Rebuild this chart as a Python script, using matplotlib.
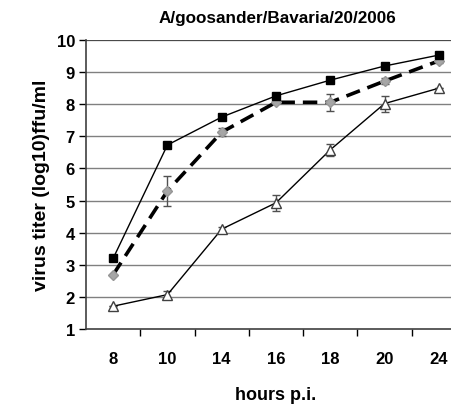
import matplotlib
matplotlib.use("Agg")
from matplotlib import pyplot as plt

plt.rcParams['font.family'] = ['Liberation Sans', 'DejaVu Sans']
plt.rcParams['font.weight'] = 'bold'

# Data
HOURS = ["8", "10", "14", "16", "18", "20", "24"]
SQUARE_VALUES = [3.2, 6.73, 7.6, 8.26, 8.75, 9.19, 9.53]
DIAMOND_VALUES = [2.69, 5.3, 7.13, 8.06, 8.06, 8.72, 9.35]
DIAMOND_ERR = [0.0, 0.48, 0.12, 0.0, 0.26, 0.1, 0.08]
TRIANGLE_VALUES = [1.71, 2.07, 4.11, 4.93, 6.58, 8.02, 8.5]
TRIANGLE_ERR = [0.0, 0.1, 0.08, 0.25, 0.18, 0.25, 0.0]

TITLE = "A/goosander/Bavaria/20/2006"
X_LABEL = "hours p.i."
Y_LABEL = "virus titer (log10)ffu/ml"

fig = plt.figure(figsize=(4.51, 4.06), dpi=100)
ax = fig.add_axes([86 / 451, 1 - 330 / 406, 380 / 451, 289 / 406])

x = list(range(len(HOURS)))

# Grid lines at every integer
for yv in range(2, 11):
    ax.axhline(yv, color="#808080", linewidth=1.0, zorder=0)
ax.axhline(10, color="#404040", linewidth=1.2, zorder=0)

ax.errorbar(x, TRIANGLE_VALUES, yerr=TRIANGLE_ERR, color="black", linewidth=1.0,
            marker="^", markersize=7, markerfacecolor="white", markeredgecolor="#404040",
            ecolor="#505050", elinewidth=1.0, capsize=3, zorder=3)
ax.errorbar(x, DIAMOND_VALUES, yerr=DIAMOND_ERR, color="black", linewidth=2.6,
            linestyle=(0, (4, 2.2)), marker="D", markersize=5.5,
            markerfacecolor="#a6a6a6", markeredgecolor="#969696",
            ecolor="#505050", elinewidth=1.0, capsize=3, zorder=4)
ax.plot(x, SQUARE_VALUES, color="black", linewidth=1.0, marker="s", markersize=6,
        markerfacecolor="black", markeredgecolor="black", zorder=5)

ax.set_xlim(-0.5, len(HOURS) - 0.5)
ax.set_ylim(1, 10)
ax.set_yticks(range(1, 11))
ax.set_xticks(x)
ax.set_xticklabels(HOURS)
ax.set_xticks([i + 0.5 for i in range(len(HOURS) - 1)], minor=True)

ax.tick_params(axis="x", which="major", length=0, pad=16, labelsize=12)
ax.tick_params(axis="x", which="minor", length=5, width=1, direction="out")
ax.tick_params(axis="y", length=5, width=1, direction="out", labelsize=12, pad=3)

for side in ("top", "right"):
    ax.spines[side].set_visible(False)
ax.spines["left"].set_color("#404040")
ax.spines["bottom"].set_color("#404040")
ax.spines["left"].set_linewidth(1.2)
ax.spines["bottom"].set_linewidth(1.2)

ax.set_xlabel(X_LABEL, fontsize=13, fontweight="bold", labelpad=14)
ax.set_ylabel(Y_LABEL, fontsize=14, fontweight="bold", labelpad=5)
fig.text(277 / 451, 1 - 18 / 406, TITLE, ha="center", va="center",
         fontsize=12.3, fontweight="bold")

fig.savefig("out.png", dpi=100)
